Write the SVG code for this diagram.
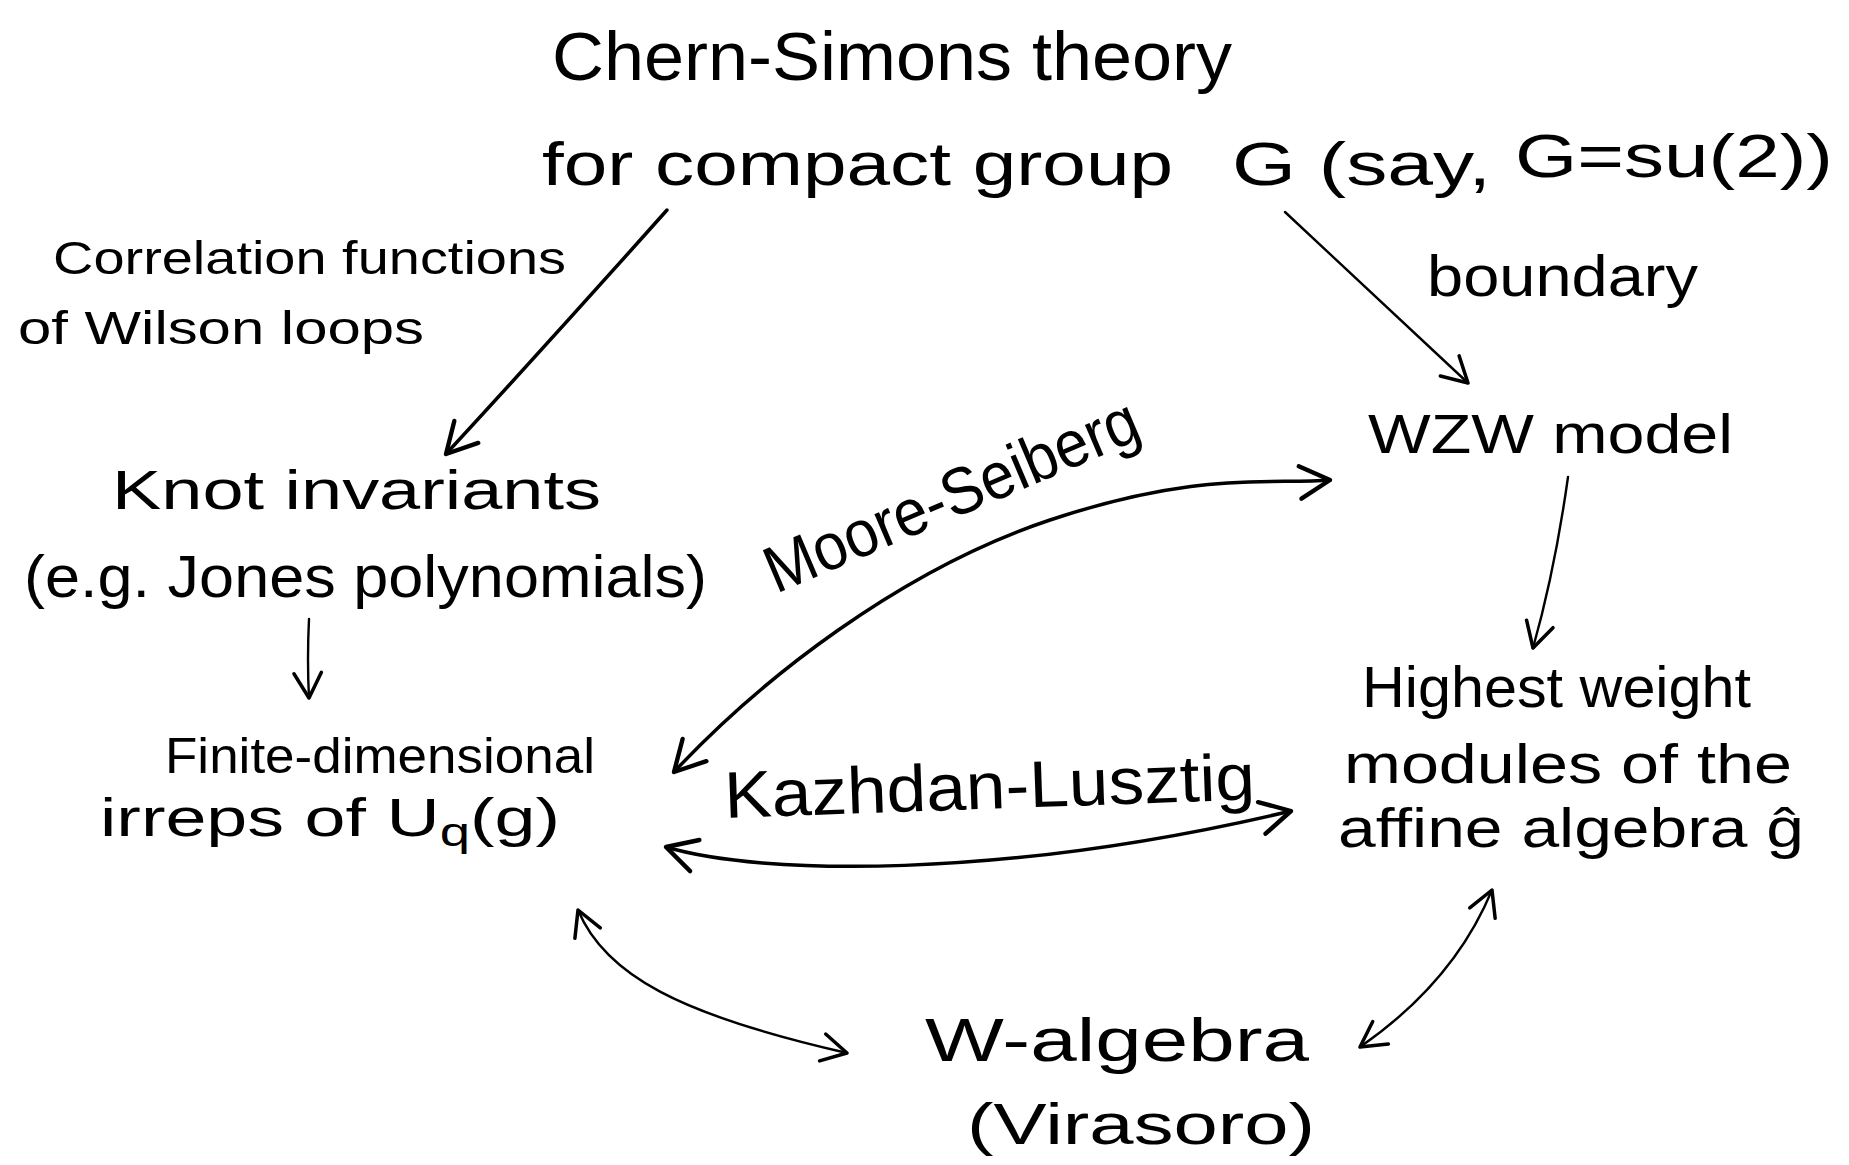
<svg xmlns="http://www.w3.org/2000/svg" width="1849" height="1165" viewBox="0 0 1849 1165">
<style>
  text { font-family: "Liberation Sans", "DejaVu Sans", sans-serif; fill: #000; }
  .conn { fill: none; stroke: #000; stroke-linecap: round; stroke-linejoin: round; }
  .bold { stroke-width: 3.5; }
  .thin { stroke-width: 2.4; }
</style>
<defs>
  <marker id="ah" markerUnits="userSpaceOnUse" markerWidth="50" markerHeight="50" viewBox="-30 -20 40 40" refX="0" refY="0" orient="auto-start-reverse" overflow="visible">
    <path d="M-24,-13 L0,0 L-24,13" fill="none" stroke="#000" stroke-width="3.5" stroke-linecap="round" stroke-linejoin="round"/>
  </marker>
  <marker id="ahs" markerUnits="userSpaceOnUse" markerWidth="50" markerHeight="50" viewBox="-30 -20 40 40" refX="0" refY="0" orient="auto-start-reverse" overflow="visible">
    <path d="M-20,-11 L0,0 L-20,11" fill="none" stroke="#000" stroke-width="2.8" stroke-linecap="round" stroke-linejoin="round"/>
  </marker>
</defs>
<rect width="1849" height="1165" fill="#fff"/>

<g id="chern-simons">
  <text x="552" y="80" font-size="68" textLength="680" lengthAdjust="spacingAndGlyphs">Chern-Simons theory</text>
  <text x="542" y="185" font-size="62" textLength="631" lengthAdjust="spacingAndGlyphs">for compact group</text>
  <text x="1232" y="185" font-size="62" textLength="259" lengthAdjust="spacingAndGlyphs">G (say,</text>
  <text x="1515" y="177" font-size="62" textLength="318" lengthAdjust="spacingAndGlyphs">G=su(2))</text>
</g>

<g id="label-correlation">
  <text x="53" y="274" font-size="46" textLength="513" lengthAdjust="spacingAndGlyphs">Correlation functions</text>
  <text x="18" y="344" font-size="46" textLength="406" lengthAdjust="spacingAndGlyphs">of Wilson loops</text>
</g>

<g id="label-boundary">
  <text x="1427" y="296" font-size="58" textLength="271" lengthAdjust="spacingAndGlyphs">boundary</text>
</g>

<g id="wzw">
  <text x="1368" y="453" font-size="56" textLength="365" lengthAdjust="spacingAndGlyphs">WZW model</text>
</g>

<g id="knot">
  <text x="112" y="509" font-size="56" textLength="489" lengthAdjust="spacingAndGlyphs">Knot invariants</text>
  <text x="24" y="597" font-size="60" textLength="683" lengthAdjust="spacingAndGlyphs">(e.g. Jones polynomials)</text>
</g>

<g id="finite">
  <text x="165" y="773" font-size="50" textLength="430" lengthAdjust="spacingAndGlyphs">Finite-dimensional</text>
  <text x="100" y="836" font-size="54" textLength="460" lengthAdjust="spacingAndGlyphs">irreps of U<tspan dy="10" font-size="40">q</tspan><tspan dy="-10">(g)</tspan></text>
</g>

<g id="highest">
  <text x="1362" y="707" font-size="58" textLength="389" lengthAdjust="spacingAndGlyphs">Highest weight</text>
  <text x="1344" y="783" font-size="56" textLength="448" lengthAdjust="spacingAndGlyphs">modules of the</text>
  <text x="1338" y="847" font-size="56" textLength="466" lengthAdjust="spacingAndGlyphs">affine algebra ĝ</text>
</g>

<g id="w-algebra">
  <text x="925" y="1061" font-size="62" textLength="384" lengthAdjust="spacingAndGlyphs">W-algebra</text>
  <text x="967" y="1144" font-size="58" textLength="348" lengthAdjust="spacingAndGlyphs">(Virasoro)</text>
</g>

<g id="label-moore-seiberg">
  <text x="0" y="0" font-size="66" textLength="400" lengthAdjust="spacingAndGlyphs" transform="translate(776,594) rotate(-23)">Moore-Seiberg</text>
</g>

<g id="label-kazhdan-lusztig">
  <text x="0" y="0" font-size="66" textLength="531" lengthAdjust="spacingAndGlyphs" transform="translate(725,818) rotate(-2)">Kazhdan-Lusztig</text>
</g>

<g id="connectors">
  <path class="conn bold" d="M667,210 Q560,330 446,454" marker-end="url(#ah)"/>
  <path class="conn thin" d="M1285,212 L1468,383" marker-end="url(#ahs)"/>
  <path class="conn thin" d="M309,619 Q307,660 309,698" marker-end="url(#ahs)"/>
  <path class="conn thin" d="M1568,477 Q1555,570 1533,648" marker-end="url(#ahs)"/>
  <path class="conn bold" d="M674,772 C760,680 900,570 1050,520 S1270,485 1330,480" marker-start="url(#ah)" marker-end="url(#ah)"/>
  <path class="conn bold" d="M666,847 C760,875 1000,880 1291,811" marker-start="url(#ah)" marker-end="url(#ah)"/>
  <path class="conn thin" d="M578,910 C605,975 680,1015 847,1053" marker-start="url(#ahs)" marker-end="url(#ahs)"/>
  <path class="conn thin" d="M1492,890 Q1454,982 1360,1047" marker-start="url(#ahs)" marker-end="url(#ahs)"/>
</g>
</svg>
